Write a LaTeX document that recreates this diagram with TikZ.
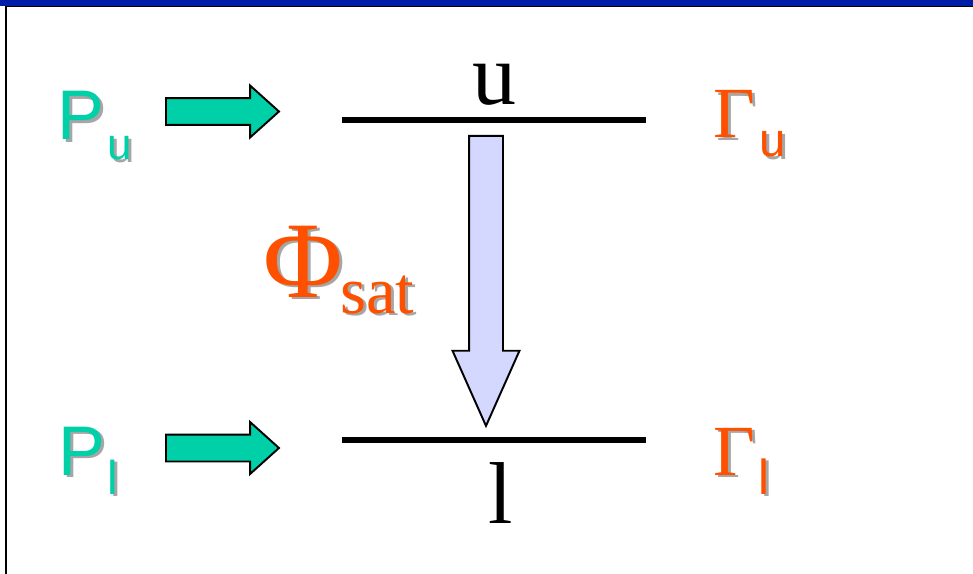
\documentclass[tikz,border=0pt]{standalone}
\usepackage{fontspec}
\setmainfont{Liberation Serif}
\newfontfamily\arialfont{Liberation Sans}
\newfontfamily\timesfont{Liberation Serif}
\usepackage{tikz}
\usetikzlibrary{shapes.arrows}

\definecolor{pumpgreen}{RGB}{0,208,168}
\definecolor{lossorange}{RGB}{255,80,0}
\definecolor{fluxblue}{RGB}{212,216,255}
\definecolor{slideblue}{RGB}{0,30,165}

% text with a soft drop shadow
\newcommand{\shadowed}[1]{\makebox[0pt][l]{\hspace{1.6pt}\raisebox{-1.6pt}{\textcolor{black!35}{#1}}}#1}

\begin{document}
\begin{tikzpicture}[
      x=0.02cm, y=-0.02cm,
      level/.style={line width=3.4pt, line cap=butt},
      pumparrow/.style={
          shape=single arrow, draw=black, fill=pumpgreen,
          line width=1.1pt, anchor=tail,
          minimum height=2.26cm, inner xsep=0pt, inner ysep=0.25cm,
          single arrow head extend=0.25cm,
          single arrow tip angle=84, single arrow head indent=0pt
      },
      satarrow/.style={
          shape=single arrow, draw=black, fill=fluxblue,
          line width=1.1pt, anchor=tail, rotate=-90,
          minimum height=5.8cm, inner xsep=0pt, inner ysep=0.32cm,
          single arrow head extend=0.33cm,
          single arrow tip angle=48, single arrow head indent=0pt
      },
      pumplabel/.style={text=pumpgreen, inner sep=0pt, anchor=base west},
      losslabel/.style={text=lossorange, inner sep=0pt, anchor=base west},
      levellabel/.style={text=black, inner sep=0pt, anchor=base,
          font=\timesfont\fontsize{50}{50}\selectfont}
  ]
  \useasboundingbox (0,0) rectangle (973,574);

  % slide frame
  \fill[slideblue] (0,0) rectangle (973,6.5);
  \draw[line width=1.1pt] (6,574) -- (6,6.5) -- (973,6.5);

  % levels
  \coordinate (uL) at (342,120);
  \coordinate (uR) at (646,120);
  \coordinate (lL) at (342,440);
  \coordinate (lR) at (646,440);
  \draw[level] (uL) -- (uR);
  \draw[level] (lL) -- (lR);
  \node[levellabel] (ulab) at (494,105) {u};
  \node[levellabel] (llab) at (501,523) {l};

  % pumping
  \node[pumplabel, font=\arialfont\fontsize{40}{40}\selectfont] (Pu) at (57,140) {\shadowed{P}};
  \node[pumplabel, font=\arialfont\fontsize{25}{25}\selectfont] (Pusub) at (107,160) {\shadowed{u}};
  \node[pumplabel, font=\arialfont\fontsize{40}{40}\selectfont] (Pl) at (58,475) {\shadowed{P}};
  \node[pumplabel, font=\arialfont\fontsize{27}{27}\selectfont] (Plsub) at (107,494) {\shadowed{l}};
  \node[pumparrow] (pumpu) at (165,111.5) {};
  \node[pumparrow] (pumpl) at (165,448) {};

  % losses
  \node[losslabel, font=\timesfont\fontsize{41}{41}\selectfont] (Gu) at (713,138) {\shadowed{Γ}};
  \node[losslabel, font=\arialfont\fontsize{27}{27}\selectfont] (Gusub) at (759,157) {\shadowed{u}};
  \node[losslabel, font=\timesfont\fontsize{41}{41}\selectfont] (Gl) at (713,475) {\shadowed{Γ}};
  \node[losslabel, font=\arialfont\fontsize{28}{28}\selectfont] (Glsub) at (758,494) {\shadowed{l}};

  % saturation flux
  \node[satarrow] (flux) at (486,135) {};
  \node[losslabel, font=\timesfont\fontsize{62}{62}\selectfont] (Phi) at (263,297) {\shadowed{Φ}};
  \node[losslabel, font=\timesfont\fontsize{38}{38}\selectfont] (sat) at (340,313) {\shadowed{sat}};
\end{tikzpicture}
\end{document}
